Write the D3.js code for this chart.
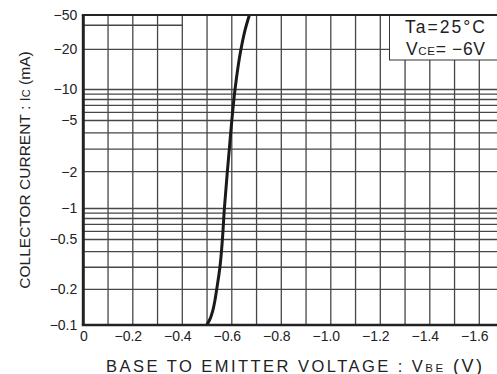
<!DOCTYPE html>
<html>
<head>
<meta charset="utf-8">
<script src="https://cdn.jsdelivr.net/npm/d3@7"></script>
<style>
  html, body { margin: 0; padding: 0; background: #fff; }
  svg { display: block; font-family: "Liberation Sans", Arial, Helvetica, sans-serif; }
</style>
</head>
<body>
<div id="chart"></div>
<script>
// base-emitter voltage (V) and collector current (mA)
const vbe = [-0.499, -0.514, -0.524, -0.532, -0.539, -0.552, -0.562, -0.570, -0.582, -0.590, -0.600, -0.613, -0.637, -0.653, -0.671]
const ic  = [-0.1, -0.115, -0.134, -0.162, -0.2, -0.3, -0.5, -1, -2, -3, -5, -10, -20, -33, -50]

const xTicks = [0, -0.2, -0.4, -0.6, -0.8, -1.0, -1.2, -1.4, -1.6]
const yTicks = [-0.1, -0.2, -0.5, -1, -2, -5, -10, -20, -50]

// the printed log grid is not evenly spaced, so the scale is calibrated on the labelled ticks
const yTickPx = [325, 289.3, 239.5, 208.5, 171.7, 120.5, 89.5, 49.3, 15]

const width = 497, height = 374
const plotLeft = 83.3, plotTop = 15, plotBottom = 325

const svg = d3.select('#chart')
  .append('svg')
  .attr('width', width)
  .attr('height', height)

const x = d3.scaleLinear()
  .domain([0, -1.7])
  .range([plotLeft, plotLeft + 17 * 24.75])

const y = d3.scaleLog()
  .domain(yTicks)
  .range(yTickPx)

// grid
const grid = svg.append('g')
  .attr('stroke', '#474747')
  .attr('stroke-width', 1.3)

grid.selectAll('line.v')
  .data(x.ticks(17))
  .enter().append('line')
    .attr('class', 'v')
    .attr('x1', d => x(d)).attr('x2', d => x(d))
    .attr('y1', plotTop).attr('y2', plotBottom)

grid.selectAll('line.h')
  .data(y.ticks().filter(d => d >= -20))
  .enter().append('line')
    .attr('class', 'h')
    .attr('x1', plotLeft).attr('x2', width)
    .attr('y1', d => y(d)).attr('y2', d => y(d))

// short line near the top left, as printed
grid.append('line')
  .attr('x1', x(0)).attr('x2', x(-0.4))
  .attr('y1', y(-38)).attr('y2', y(-38))

// curve
const line = d3.line()
  .x(d => x(d[0]))
  .y(d => y(d[1]))
  .curve(d3.curveMonotoneY)

svg.append('path')
  .datum(d3.zip(vbe, ic))
  .attr('d', line)
  .attr('fill', 'none')
  .attr('stroke', '#1a1a1a')
  .attr('stroke-width', 3)

// condition box
const box = svg.append('g')
box.append('rect')
  .attr('x', 389.5).attr('y', plotTop)
  .attr('width', 120).attr('height', 45)
  .attr('fill', '#fff')
  .attr('stroke', '#333')
  .attr('stroke-width', 1)

box.append('text')
  .attr('x', 405).attr('y', 32.5)
  .attr('font-size', 17.5)
  .attr('fill', '#222')
  .attr('textLength', 80)
  .text('Ta=25°C')

const vce = box.append('text')
  .attr('x', 406).attr('y', 55)
  .attr('font-size', 17.5)
  .attr('fill', '#222')
  .attr('textLength', 79)
vce.append('tspan').text('V')
vce.append('tspan').attr('font-size', 11.5).text('CE')
vce.append('tspan').text('= −6V')

// frame: top, left, bottom
const frame = svg.append('g')
  .attr('stroke', '#222')
  .attr('fill', 'none')
frame.append('line').attr('x1', plotLeft - 1.5).attr('x2', width).attr('y1', plotTop).attr('y2', plotTop).attr('stroke-width', 2)
frame.append('line').attr('x1', plotLeft).attr('x2', plotLeft).attr('y1', plotTop).attr('y2', plotBottom).attr('stroke-width', 3)
frame.append('line').attr('x1', plotLeft - 1.5).attr('x2', width).attr('y1', plotBottom).attr('y2', plotBottom).attr('stroke-width', 2.5)

// axes
const fmt = d3.format('~g')

const yAxis = svg.append('g')
  .attr('transform', `translate(${plotLeft},0)`)
  .call(d3.axisLeft(y).tickValues(yTicks).tickSize(0).tickPadding(6).tickFormat(fmt))
yAxis.select('.domain').remove()
yAxis.selectAll('text')
  .attr('font-size', 14)
  .attr('fill', '#222')

const xAxis = svg.append('g')
  .attr('transform', `translate(0,${plotBottom})`)
  .call(d3.axisBottom(x).tickValues(xTicks).tickSize(0).tickPadding(6.5)
    .tickFormat(d => d === 0 ? '0' : d3.format('.1f')(d)))
xAxis.select('.domain').remove()
xAxis.selectAll('text')
  .attr('font-size', 14)
  .attr('fill', '#222')
  .attr('dx', d => d === 0 ? 0 : -5)

// titles
const xTitle = svg.append('text')
  .attr('x', 106).attr('y', 371.5)
  .attr('font-size', 16.5)
  .attr('fill', '#222')
  .attr('textLength', 376)
xTitle.append('tspan').text('BASE TO EMITTER VOLTAGE : V')
xTitle.append('tspan').attr('font-size', 11.5).text('BE')
xTitle.append('tspan').attr('font-size', 18).text(' (V)')

const yTitle = svg.append('text')
  .attr('transform', 'translate(29.5,170) rotate(-90)')
  .attr('text-anchor', 'middle')
  .attr('font-size', 15.5)
  .attr('fill', '#222')
yTitle.append('tspan').text('COLLECTOR CURRENT : I')
yTitle.append('tspan').attr('font-size', 11).text('C')
yTitle.append('tspan').text(' (mA)')
</script>
</body>
</html>
